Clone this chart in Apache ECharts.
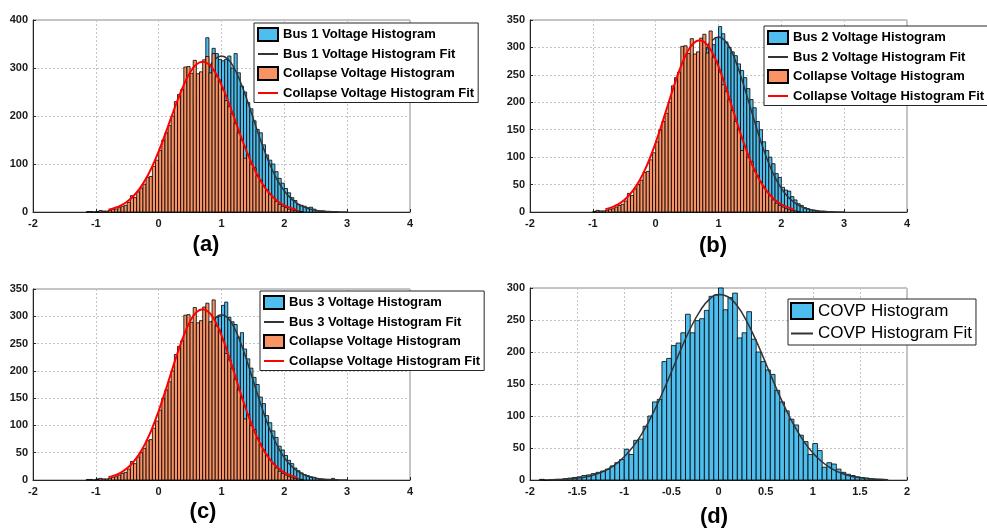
<!DOCTYPE html>
<html>
<head>
<meta charset="utf-8">
<script src="https://cdn.jsdelivr.net/npm/echarts@6/dist/echarts.min.js"></script>
<style>
  html, body { margin: 0; padding: 0; background: #fff; }
  #main { width: 987px; height: 529px; }
</style>
</head>
<body>
<div id="main"></div>
<script>
// histogram bin width (all panels)
const binWidth = 0.05

// collapse voltage histogram, shared by (a) (b) (c); first bin starts at -1.00
const collapseStart = -1.0
const collapseCounts = [1, 3, 2, 2, 3, 5, 6, 9, 12, 14, 20, 34, 30, 42, 50, 58, 72, 74, 95, 108,
    128, 150, 165, 180, 200, 230, 245, 255, 302, 303, 289, 316, 288, 292, 317, 324, 290, 330, 282, 275,
    255, 232, 220, 205, 185, 165, 150, 112, 120, 100, 92, 76, 66, 55, 46, 37, 30, 22, 16, 12,
    9, 6, 4, 3, 2, 1]

// bus 1, first bin -1.15
const bus1Start = -1.15
const bus1Counts = [1, 1, 0, 1, 0, 0, 0, 1, 1, 1, 2, 2, 3, 4, 5, 7, 9, 12, 16, 20, 26, 32, 40,
    49, 59, 70, 83, 98, 114, 131, 150, 168, 188, 207, 226, 245, 262, 279, 363, 305, 341, 330, 318, 315,
    318, 325, 300, 330, 290, 262, 250, 228, 215, 190, 172, 165, 140, 119, 108, 100, 84, 70, 60, 49,
    40, 30, 24, 16, 14, 12, 9, 10, 6, 3, 2, 2, 1, 1, 0, 1]

// bus 2, first bin -0.50
const bus2Start = -0.5
const bus2Counts = [3, 5, 6, 9, 12, 16, 20, 25, 32, 39,
    48, 57, 69, 82, 96, 111, 128, 146, 165, 184, 203, 222, 241, 258, 274, 288, 300, 309, 305, 318,
    338, 325, 310, 300, 292, 285, 270, 258, 245, 225, 205, 190, 165, 150, 128, 112, 100, 88, 70, 63,
    45, 40, 38, 28, 22, 15, 12, 8, 6, 4, 3, 2, 1, 1, 1]

// bus 3, first bin -1.15
const bus3Start = -1.15
const bus3Counts = [1, 1, 0, 2, 0, 1, 0, 1, 1, 1, 2, 2, 3, 4, 5, 7, 9, 12, 15, 19, 24, 31, 38,
    46, 55, 66, 78, 92, 107, 123, 140, 158, 176, 194, 212, 229, 245, 260, 273, 284, 292, 298, 300, 320,
    326, 298, 290, 285, 262, 270, 240, 222, 205, 188, 175, 152, 140, 118, 105, 90, 78, 62, 55, 45,
    36, 30, 22, 17, 13, 10, 8, 6, 5, 3, 2, 1, 1, 1, 3, 0]

// COVP, first bin -1.90
const covpStart = -1.9
const covpCounts = [1, 0, 0, 1, 1, 2, 3, 4, 5, 7, 8, 10, 12, 14, 17, 22, 27, 32, 48, 40,
    62, 64, 84, 100, 122, 126, 185, 190, 210, 214, 230, 259, 230, 249, 252, 265, 287, 289,
    300, 266, 285, 292, 222, 230, 263, 220, 200, 185, 172, 165, 140, 122, 108, 95, 86, 70, 60, 40,
    57, 46, 20, 27, 25, 17, 12, 9, 7, 5, 4, 3, 2, 1, 1]

// fitted curves
const collapseFitX = [-0.8, -0.7, -0.6, -0.5, -0.4, -0.3, -0.2, -0.1, 0, 0.1, 0.2, 0.3, 0.4, 0.5, 0.6, 0.7,
    0.8, 0.9, 1.0, 1.1, 1.2, 1.3, 1.4, 1.5, 1.6, 1.7, 1.8, 1.9, 2.0, 2.1, 2.2]
const collapseFitY = [4.9, 8.4, 13.7, 21.8, 33.4, 49.3, 70, 95.9, 126.5, 160.8, 197, 232.8, 265, 290.7, 307.3, 313,
    307.3, 290.7, 265, 232.8, 197, 160.8, 126.5, 95.9, 70, 49.3, 33.4, 21.8, 13.7, 8.4, 4.9]

const busFitX = [-1.0, -0.9, -0.8, -0.7, -0.6, -0.5, -0.4, -0.3, -0.2, -0.1, 0, 0.1, 0.2, 0.3, 0.4, 0.5, 0.6, 0.7, 0.8, 0.9,
    1.0, 1.1, 1.2, 1.3, 1.4, 1.5, 1.6, 1.7, 1.8, 1.9, 2.0, 2.1, 2.2, 2.3, 2.4, 2.5, 2.6, 2.7, 2.8, 2.9, 3.0]
const bus1FitY = [0.1, 0.2, 0.5, 1.0, 1.9, 3.6, 6.4, 11.1, 18.2, 28.9, 44, 64, 90, 122, 158, 197, 236, 271.5, 300, 318.6,
    325, 318.6, 300, 271.5, 236, 197, 158, 122, 90, 64, 44, 28.9, 18.2, 11.1, 6.4, 3.6, 1.9, 1.0, 0.5, 0.2, 0.1]
const bus2FitY = [0.1, 0.2, 0.5, 1.0, 1.9, 3.5, 6.3, 10.8, 17.9, 28.4, 43.2, 63.2, 88.7, 119.7, 155.3, 193.5, 231.6, 266.4, 294.5, 312.7,
    319, 312.7, 294.5, 266.4, 231.6, 193.5, 155.3, 119.7, 88.7, 63.2, 43.2, 28.4, 17.9, 10.8, 6.3, 3.5, 1.9, 1.0, 0.5, 0.2, 0.1]
const bus3FitY = [0.1, 0.2, 0.5, 0.9, 1.8, 3.4, 6, 10.3, 17, 27, 41, 60, 84.2, 113.6, 147.5, 183.8, 220, 253, 279.7, 297,
    303, 297, 279.7, 253, 220, 183.8, 147.5, 113.6, 84.2, 60, 41, 27, 17, 10.3, 6, 3.4, 1.8, 0.9, 0.5, 0.2, 0.1]

const covpFitX = [-1.8, -1.7, -1.6, -1.5, -1.4, -1.3, -1.2, -1.1, -1.0, -0.9, -0.8, -0.7, -0.6, -0.5, -0.4, -0.3, -0.2, -0.1,
    0, 0.1, 0.2, 0.3, 0.4, 0.5, 0.6, 0.7, 0.8, 0.9, 1.0, 1.1, 1.2, 1.3, 1.4, 1.5, 1.6, 1.7, 1.8]
const covpFitY = [0.5, 0.8, 1.5, 2.9, 5.1, 8.9, 14.8, 23.6, 36.2, 53.4, 75.6, 102.8, 134.4, 168.8, 203.8, 236.3, 263.2, 281.8,
    289.8, 286.3, 271.8, 247.9, 217.3, 182.9, 148, 115, 85.9, 61.6, 42.5, 28.1, 17.9, 10.9, 6.4, 3.6, 2.0, 1.0, 0.5]

const panelLabels = ['(a)', '(b)', '(c)', '(d)']

const FONT = "'Liberation Sans', Arial, sans-serif"
const BLUE = '#4DBEEE'
const ORANGE = '#F99264'

const toBins = (start, counts) => counts.map((c, i) => [start + i * binWidth, start + (i + 1) * binWidth, c])
const zip = (xs, ys) => xs.map((x, i) => [x, ys[i]])

const renderBar = (params, api) => {
    const p0 = api.coord([api.value(0), api.value(2)])
    const p1 = api.coord([api.value(1), 0])
    return {
        type: 'rect',
        shape: { x: p0[0], y: p0[1], width: p1[0] - p0[0], height: p1[1] - p0[1] },
        style: { fill: api.visual('color'), stroke: '#000', lineWidth: 0.8 }
    }
}

const histSeries = (name, idx, start, counts, color, z) => ({
    name,
    type: 'custom',
    xAxisIndex: idx,
    yAxisIndex: idx,
    renderItem: renderBar,
    itemStyle: { color, borderColor: '#000', borderWidth: 1 },
    encode: { x: [0, 1], y: 2 },
    data: toBins(start, counts),
    z,
    silent: true
})

const fitSeries = (name, idx, xs, ys, color, width, z) => ({
    name,
    type: 'line',
    xAxisIndex: idx,
    yAxisIndex: idx,
    data: zip(xs, ys),
    smooth: true,
    symbol: 'none',
    lineStyle: { color, width },
    itemStyle: { color },
    z,
    silent: true
})

const grids = [
    { left: 33, top: 20, width: 377, height: 192 },
    { left: 530, top: 20, width: 377, height: 192 },
    { left: 33, top: 289, width: 377, height: 191 },
    { left: 530, top: 288, width: 377, height: 192 }
].map(g => ({ ...g, show: true, borderColor: '#8a8a8a', borderWidth: 1, backgroundColor: '#fff' }))

const axisText = { color: '#1a1a1a', fontSize: 11, fontWeight: 'bold', fontFamily: FONT }
const gridLine = { show: true, lineStyle: { color: '#c4c4c4', type: [2, 2], width: 1 } }

const xRanges = [[-2, 4, 1], [-2, 4, 1], [-2, 4, 1], [-2, 2, 0.5]]
const yRanges = [[400, 100], [350, 50], [350, 50], [300, 50]]

const xAxis = xRanges.map(([min, max, interval], i) => ({
    type: 'value', gridIndex: i, min, max, interval,
    axisLine: { show: true, onZero: false, lineStyle: { color: '#262626', width: 1 } },
    axisTick: { show: true, inside: true, length: 3, lineStyle: { color: '#262626' } },
    axisLabel: { ...axisText, margin: 6 },
    splitLine: gridLine
}))

const yAxis = yRanges.map(([max, interval], i) => ({
    type: 'value', gridIndex: i, min: 0, max, interval,
    axisLine: { show: true, onZero: false, lineStyle: { color: '#262626', width: 1 } },
    axisTick: { show: true, inside: true, length: 3, lineStyle: { color: '#262626' } },
    axisLabel: { ...axisText, margin: 5 },
    splitLine: gridLine
}))

const series = [
    // (a)
    histSeries('Bus 1 Voltage Histogram', 0, bus1Start, bus1Counts, BLUE, 2),
    fitSeries('Bus 1 Voltage Histogram Fit', 0, busFitX, bus1FitY, '#333333', 1.5, 3),
    histSeries('Collapse Voltage Histogram', 0, collapseStart, collapseCounts, ORANGE, 4),
    fitSeries('Collapse Voltage Histogram Fit', 0, collapseFitX, collapseFitY, '#FF0000', 2, 5),
    // (b)
    histSeries('Bus 2 Voltage Histogram', 1, bus2Start, bus2Counts, BLUE, 2),
    fitSeries('Bus 2 Voltage Histogram Fit', 1, busFitX, bus2FitY, '#333333', 1.5, 3),
    histSeries('Collapse Voltage Histogram', 1, collapseStart, collapseCounts, ORANGE, 4),
    fitSeries('Collapse Voltage Histogram Fit', 1, collapseFitX, collapseFitY, '#FF0000', 2, 5),
    // (c)
    histSeries('Bus 3 Voltage Histogram', 2, bus3Start, bus3Counts, BLUE, 2),
    fitSeries('Bus 3 Voltage Histogram Fit', 2, busFitX, bus3FitY, '#333333', 1.5, 3),
    histSeries('Collapse Voltage Histogram', 2, collapseStart, collapseCounts, ORANGE, 4),
    fitSeries('Collapse Voltage Histogram Fit', 2, collapseFitX, collapseFitY, '#FF0000', 2, 5),
    // (d)
    histSeries('COVP Histogram', 3, covpStart, covpCounts, BLUE, 2),
    fitSeries('COVP Histogram Fit', 3, covpFitX, covpFitY, '#333333', 1.5, 3)
]

const legendBase = {
    orient: 'vertical',
    backgroundColor: '#fff',
    borderColor: '#262626',
    borderWidth: 1,
    borderRadius: 0,
    itemWidth: 20,
    itemHeight: 13,
    itemGap: 5.5,
    padding: [4, 4, 3, 3],
    selectedMode: false,
    z: 10,
    textStyle: { fontSize: 13, fontWeight: 'bold', color: '#000', fontFamily: FONT }
}

// line entries: hide the marker, keep only the stroke
const lineItem = (name) => ({ name, itemStyle: { opacity: 0 }, lineStyle: { width: 2 } })

const legendItems = (bus) => [
    { name: `Bus ${bus} Voltage Histogram`, icon: 'rect' },
    lineItem(`Bus ${bus} Voltage Histogram Fit`),
    { name: 'Collapse Voltage Histogram', icon: 'rect' },
    lineItem('Collapse Voltage Histogram Fit')
]

const legend = [
    { ...legendBase, left: 254, top: 23, data: legendItems(1) },
    { ...legendBase, left: 764, top: 26, data: legendItems(2) },
    { ...legendBase, left: 260, top: 291, data: legendItems(3) },
    {
        ...legendBase, left: 788, top: 299, itemWidth: 22, itemHeight: 16, itemGap: 5,
        padding: [3, 4, 3, 2],
        textStyle: { fontSize: 17, fontWeight: 'normal', color: '#000', fontFamily: FONT },
        data: [{ name: 'COVP Histogram', icon: 'rect' }, lineItem('COVP Histogram Fit')]
    }
]

const labelPos = [[206, 245], [713, 246], [203, 512], [714, 517]]
const graphic = panelLabels.map((t, i) => ({
    type: 'text',
    x: labelPos[i][0],
    y: labelPos[i][1],
    style: {
        text: t,
        font: `bold 22px ${FONT}`,
        fill: '#000',
        textAlign: 'center',
        textVerticalAlign: 'middle'
    }
}))

const chart = echarts.init(document.getElementById('main'), null, { renderer: 'canvas' })
chart.setOption({
    animation: false,
    backgroundColor: '#fff',
    grid: grids,
    xAxis,
    yAxis,
    legend,
    graphic,
    series
})
</script>
</body>
</html>
